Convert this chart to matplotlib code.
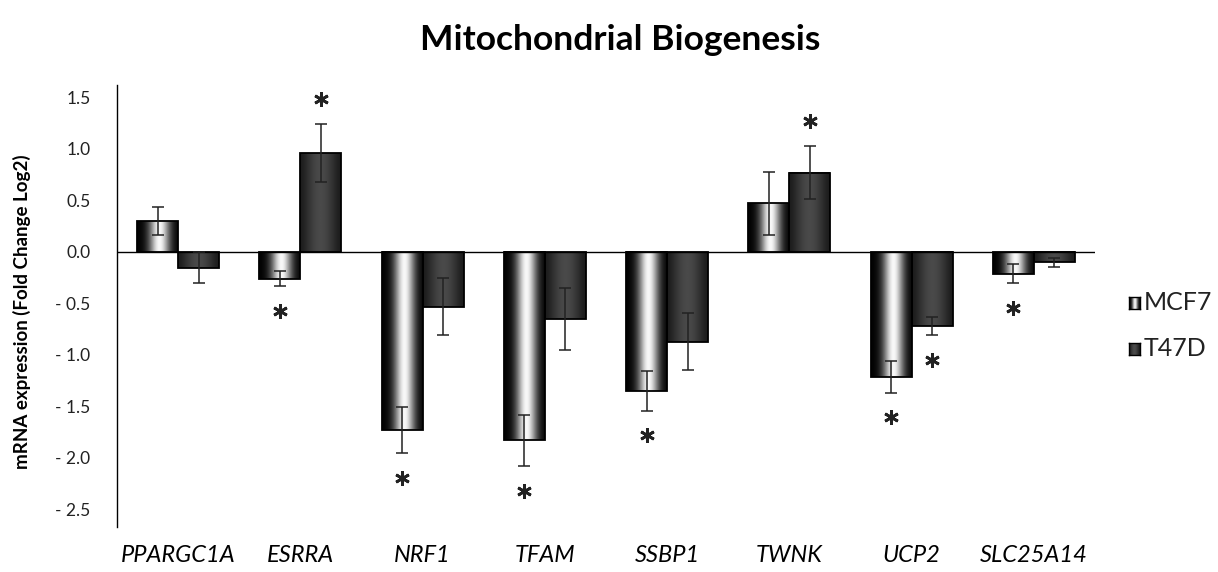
import numpy as np
import matplotlib
matplotlib.use("Agg")
import matplotlib.pyplot as plt
from matplotlib.patches import Rectangle

plt.rcParams['font.family'] = ['Lato', 'DejaVu Sans']

# ---------------- data ----------------
genes = ["PPARGC1A", "ESRRA", "NRF1", "TFAM", "SSBP1", "TWNK", "UCP2", "SLC25A14"]
mcf7 = [0.30, -0.26, -1.73, -1.83, -1.35, 0.47, -1.21, -0.21]
mcf7_err = [0.14, 0.075, 0.22, 0.25, 0.19, 0.31, 0.155, 0.09]
t47d = [-0.155, 0.96, -0.53, -0.65, -0.87, 0.77, -0.72, -0.10]
t47d_err = [0.15, 0.28, 0.28, 0.30, 0.28, 0.26, 0.085, 0.045]
mcf7_sig = [False, True, True, True, True, False, True, True]
t47d_sig = [False, True, False, False, False, True, True, False]
yticks = [1.5, 1.0, 0.5, 0.0, -0.5, -1.0, -1.5, -2.0, -2.5]
ytick_labels = ["1.5", "1.0", "0.5", "0.0", "- 0.5", "- 1.0", "- 1.5", "- 2.0", "- 2.5"]
series_names = ["MCF7", "T47D"]

# ---------------- gradients ----------------
def mcf7_profile(n=200):
    t = np.linspace(0, 1, n)
    return 0.97 * np.exp(-((t - 0.55) / 0.25) ** 2)

def t47d_profile(n=200):
    t = np.linspace(0, 1, n)
    return 0.11 + 0.18 * np.sin(np.pi * t) ** 1.5

grad_m = mcf7_profile()[None, :]
grad_t = t47d_profile()[None, :]

fig = plt.figure(figsize=(12.18, 5.72), dpi=100)
W, H = 1218, 572
ax = fig.add_axes([117 / W, 1 - 527 / H, (1095 - 117) / W, (527 - 85) / H])

x = np.arange(len(genes))
bw = 0.335
bars_m = ax.bar(x - bw / 2, mcf7, bw, facecolor='none', edgecolor='none')
bars_t = ax.bar(x + bw / 2, t47d, bw, facecolor='none', edgecolor='none')

for bars, grad in ((bars_m, grad_m), (bars_t, grad_t)):
    for p in bars:
        x0, y0 = p.get_x(), p.get_y()
        w, h = p.get_width(), p.get_height()
        ya, yb = sorted([y0, y0 + h])
        ax.imshow(grad, cmap='gray', vmin=0, vmax=1, extent=(x0, x0 + w, ya, yb),
                  aspect='auto', interpolation='bilinear', zorder=2)
        ax.add_patch(Rectangle((x0, ya), w, yb - ya, fill=False, edgecolor='black',
                               linewidth=1.3, zorder=3))

ax.errorbar(x - bw / 2, mcf7, yerr=mcf7_err, fmt='none', ecolor='#222222',
            elinewidth=1.1, capsize=4, capthick=1.1, zorder=4)
ax.errorbar(x + bw / 2, t47d, yerr=t47d_err, fmt='none', ecolor='#222222',
            elinewidth=1.1, capsize=4, capthick=1.1, zorder=4)

off = 0.24
for xs, vals, errs, sigs in ((x - bw / 2, mcf7, mcf7_err, mcf7_sig),
                             (x + bw / 2, t47d, t47d_err, t47d_sig)):
    for xi, v, e, s in zip(xs, vals, errs, sigs):
        if not s:
            continue
        yy = v + e + off if v > 0 else v - e - off
        ax.plot(xi, yy, marker=(6, 2, 0), markersize=10.5, mew=2.0, color='#222222',
                zorder=5)

ax.axhline(0, color='black', linewidth=1.0, zorder=3.5)

ax.set_xlim(-0.5, len(genes) - 0.5)
ax.set_ylim(-2.67, 1.62)
ax.set_yticks(yticks)
ax.set_yticklabels(ytick_labels, fontsize=12.5, color='#222222')
ax.set_xticks(x)
ax.set_xticklabels(genes, fontsize=17, style='italic', color='black')
ax.tick_params(axis='y', length=0, pad=19)
ax.tick_params(axis='x', length=0, pad=13)
for s in ('top', 'right', 'bottom'):
    ax.spines[s].set_visible(False)
ax.spines['left'].set_linewidth(1.0)

fig.text(620 / W, 1 - 40 / H, "Mitochondrial Biogenesis", fontsize=25.5, fontweight='bold',
         ha='center', va='center')
fig.text(22 / W, 1 - 312 / H, "mRNA expression (Fold Change Log2)", fontsize=13.5,
         fontweight='bold', rotation=90, ha='center', va='center')

# legend
for (name, grad, yc) in ((series_names[0], grad_m, 303), (series_names[1], grad_t, 349)):
    lax = fig.add_axes([1129 / W, 1 - (yc + 6) / H, 11 / W, 12 / H])
    lax.imshow(grad, cmap='gray', vmin=0, vmax=1, aspect='auto', interpolation='bilinear')
    lax.set_xticks([]); lax.set_yticks([])
    for sp in lax.spines.values():
        sp.set_linewidth(1.0)
    fig.text(1144 / W, 1 - yc / H, name, fontsize=18, ha='left', va='center',
             color='#222222')

fig.savefig("out.png", dpi=100)
